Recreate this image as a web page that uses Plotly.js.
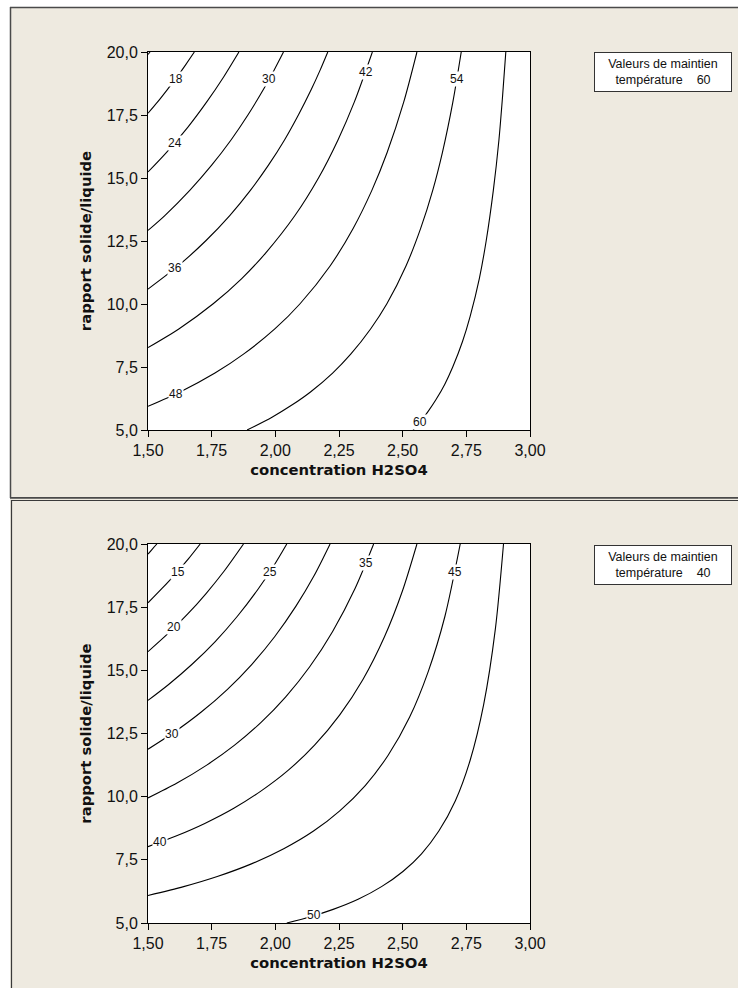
<!DOCTYPE html>
<html><head><meta charset="utf-8">
<script src="https://cdn.plot.ly/plotly-3.0.1.min.js"></script>
<style>html,body{margin:0;padding:0;background:#fff;} #chart{width:738px;height:988px;}</style>
</head><body><div id="chart"></div>
<script>
// ---------- data ----------
const xTicks = [1.5, 1.75, 2.0, 2.25, 2.5, 2.75, 3.0];
const yTicks = [5, 7.5, 10, 12.5, 15, 17.5, 20];
const xTitle = 'concentration H2SO4';
const yTitle = 'rapport solide/liquide';

// Top panel : température 60 — contour lines (x = concentration, y = rapport)
const t60_12_x = [1.5, 1.508];
const t60_12_y = [19.9, 20];
const t60_18_x = [1.5, 1.537, 1.576, 1.614, 1.649, 1.682];
const t60_18_y = [17.57, 18.01, 18.51, 19.01, 19.51, 20];
const t60_24_x = [1.5, 1.572, 1.656, 1.730, 1.797, 1.857];
const t60_24_y = [15.24, 16.01, 17.01, 18.01, 19.01, 20];
const t60_30_x = [1.5, 1.566, 1.664, 1.750, 1.826, 1.893, 1.953, 1.994, 2.032];
const t60_30_y = [12.92, 13.51, 14.51, 15.51, 16.51, 17.51, 18.51, 19.26, 20];
const t60_36_x = [1.5, 1.618, 1.727, 1.821, 1.902, 1.973, 2.036, 2.091, 2.141, 2.175, 2.206];
const t60_36_y = [10.59, 11.51, 12.51, 13.51, 14.51, 15.51, 16.51, 17.51, 18.51, 19.26, 20];
const t60_42_x = [1.5, 1.621, 1.756, 1.868, 1.961, 2.077, 2.170, 2.246, 2.310, 2.381];
const t60_42_y = [8.27, 9.01, 10.01, 11.01, 12.01, 13.51, 15.01, 16.51, 18.01, 20];
const t60_48_x = [1.5, 1.626, 1.763, 1.875, 1.998, 2.097, 2.215, 2.306, 2.379, 2.439, 2.504, 2.556];
const t60_48_y = [5.94, 6.51, 7.26, 8.01, 9.01, 10.01, 11.51, 13.01, 14.51, 16.01, 18.01, 20];
const t60_54_x = [1.889, 1.987, 2.068, 2.138, 2.225, 2.296, 2.374, 2.438, 2.513, 2.571, 2.618, 2.656, 2.697, 2.730];
const t60_54_y = [5, 5.51, 6.01, 6.51, 7.26, 8.01, 9.01, 10.01, 11.51, 13.01, 14.51, 16.01, 18.01, 20];
const t60_60_x = [2.541, 2.568, 2.598, 2.631, 2.665, 2.697, 2.735, 2.765, 2.801, 2.828, 2.856, 2.878, 2.892, 2.905];
const t60_60_y = [5, 5.31, 5.71, 6.21, 6.81, 7.51, 8.51, 9.51, 11.01, 12.51, 14.51, 16.51, 18.21, 20];
const t60_labels = ['18', '24', '30', '36', '42', '48', '54', '60'];
const t60_labelX = [1.608, 1.605, 1.976, 1.607, 2.355, 1.609, 2.713, 2.568];
const t60_labelY = [18.93, 16.40, 18.92, 11.42, 19.21, 6.43, 18.92, 5.33];

// Bottom panel : température 40
const t40_10_x = [1.5, 1.517, 1.535];
const t40_10_y = [19.60, 19.80, 20];
const t40_15_x = [1.5, 1.555, 1.610, 1.661, 1.705];
const t40_15_y = [17.67, 18.24, 18.84, 19.44, 20];
const t40_20_x = [1.5, 1.577, 1.657, 1.728, 1.800, 1.875];
const t40_20_y = [15.74, 16.44, 17.24, 18.04, 18.94, 20];
const t40_25_x = [1.5, 1.581, 1.673, 1.764, 1.851, 1.934, 1.994, 2.045];
const t40_25_y = [13.81, 14.44, 15.24, 16.14, 17.14, 18.24, 19.14, 20];
const t40_30_x = [1.5, 1.601, 1.708, 1.811, 1.908, 1.998, 2.081, 2.152, 2.215];
const t40_30_y = [11.88, 12.54, 13.34, 14.24, 15.24, 16.34, 17.54, 18.74, 20];
const t40_35_x = [1.5, 1.614, 1.729, 1.840, 1.944, 2.040, 2.135, 2.225, 2.313, 2.386];
const t40_35_y = [9.95, 10.54, 11.24, 12.04, 12.94, 13.94, 15.14, 16.54, 18.24, 20];
const t40_40_x = [1.5, 1.610, 1.723, 1.837, 1.946, 2.050, 2.154, 2.253, 2.344, 2.429, 2.499, 2.556];
const t40_40_y = [8.02, 8.44, 8.94, 9.54, 10.24, 11.04, 12.04, 13.24, 14.64, 16.34, 18.14, 20];
const t40_45_x = [1.5, 1.640, 1.772, 1.906, 2.033, 2.150, 2.253, 2.353, 2.443, 2.527, 2.600, 2.666, 2.726];
const t40_45_y = [6.09, 6.44, 6.84, 7.34, 7.94, 8.64, 9.44, 10.44, 11.64, 13.14, 14.94, 17.14, 20];
const t40_50_x = [2.045, 2.135, 2.227, 2.325, 2.417, 2.501, 2.574, 2.642, 2.707, 2.765, 2.818, 2.864, 2.896];
const t40_50_y = [5, 5.24, 5.54, 5.94, 6.44, 7.04, 7.74, 8.64, 9.84, 11.44, 13.64, 16.64, 20];
const t40_labels = ['15', '20', '25', '30', '35', '40', '45', '50'];
const t40_labelX = [1.616, 1.604, 1.979, 1.593, 2.356, 1.547, 2.705, 2.153];
const t40_labelY = [18.90, 16.70, 18.90, 12.48, 19.24, 8.19, 18.90, 5.30];

const holdTitle = 'Valeurs de maintien';
const holdNames = ['température', 'température'];
const holdValues = [60, 40];

// ---------- build ----------
const W = 738, H = 988;
const px = v => v / W;
const py = v => 1 - v / H;

const topLines = [[t60_12_x,t60_12_y],[t60_18_x,t60_18_y],[t60_24_x,t60_24_y],[t60_30_x,t60_30_y],
  [t60_36_x,t60_36_y],[t60_42_x,t60_42_y],[t60_48_x,t60_48_y],[t60_54_x,t60_54_y],[t60_60_x,t60_60_y]];
const botLines = [[t40_10_x,t40_10_y],[t40_15_x,t40_15_y],[t40_20_x,t40_20_y],[t40_25_x,t40_25_y],
  [t40_30_x,t40_30_y],[t40_35_x,t40_35_y],[t40_40_x,t40_40_y],[t40_45_x,t40_45_y],[t40_50_x,t40_50_y]];

const traces = [];
function addLines(list, xa, ya) {
  list.forEach(([xs, ys]) => traces.push({
    type: 'scatter', mode: 'lines', x: xs, y: ys, xaxis: xa, yaxis: ya,
    line: {color: '#000', width: 1.1, shape: 'spline', smoothing: 0.8},
    hoverinfo: 'skip', showlegend: false
  }));
}
addLines(topLines, 'x', 'y');
addLines(botLines, 'x2', 'y2');

const annotations = [];
function addLabels(texts, xs, ys, xr, yr) {
  texts.forEach((t, i) => annotations.push({
    xref: xr, yref: yr, x: xs[i], y: ys[i], text: t, showarrow: false,
    bgcolor: '#ffffff', borderpad: 0, xanchor: 'center', yanchor: 'middle',
    font: {family: 'Liberation Sans, Arial, sans-serif', size: 12, color: '#111'}
  }));
}
addLabels(t60_labels, t60_labelX, t60_labelY, 'x', 'y');
addLabels(t40_labels, t40_labelX, t40_labelY, 'x2', 'y2');

// hold-value boxes
const boxCenters = [71.5, 564.5];
holdValues.forEach((v, i) => annotations.push({
  xref: 'paper', yref: 'paper', x: px(663), y: py(boxCenters[i]),
  xanchor: 'center', yanchor: 'middle', showarrow: false,
  text: holdTitle + '<br>' + holdNames[i] + '\u00a0\u00a0\u00a0\u00a0' + v,
  align: 'center', bgcolor: '#ffffff', bordercolor: '#333', borderwidth: 1,
  borderpad: 0, width: 136, height: 38,
  font: {family: 'Liberation Sans, Arial, sans-serif', size: 12.5, color: '#111'}
}));

const tickFont = {family: 'Liberation Sans, Arial, sans-serif', size: 16, color: '#111'};
const titleFont = {family: 'DejaVu Sans, Verdana, sans-serif', size: 14.8, color: '#111', weight: 'bold'};
function xAxis(dom, anchor) {
  return {domain: dom, anchor: anchor, range: [1.5, 3.0], tickvals: xTicks, tickformat: '.2f',
    ticks: 'outside', ticklen: 6, tickcolor: '#000', tickwidth: 1,
    showline: true, linecolor: '#000', linewidth: 1, mirror: true,
    showgrid: false, zeroline: false, tickfont: tickFont,
    title: {text: xTitle, font: titleFont, standoff: 6}};
}
function yAxis(dom, anchor) {
  return {domain: dom, anchor: anchor, range: [5, 20], tickvals: yTicks, tickformat: '.1f',
    ticks: 'outside', ticklen: 6, tickcolor: '#000', tickwidth: 1,
    showline: true, linecolor: '#000', linewidth: 1, mirror: true,
    showgrid: false, zeroline: false, tickfont: tickFont,
    title: {text: yTitle, font: titleFont, standoff: 11}};
}
const xDom = [px(148), px(530)];
const layout = {
  width: W, height: H, margin: {l: 0, r: 0, t: 0, b: 0},
  paper_bgcolor: '#EEEAE0', plot_bgcolor: '#ffffff',
  separators: ', ', showlegend: false,
  xaxis: xAxis(xDom, 'y'), yaxis: yAxis([py(430), py(52)], 'x'),
  xaxis2: xAxis(xDom, 'y2'), yaxis2: yAxis([py(923), py(544)], 'x2'),
  annotations: annotations,
  shapes: [
    {type: 'rect', xref: 'paper', yref: 'paper', x0: 0, x1: px(10), y0: 0, y1: 1, fillcolor: '#fff', line: {width: 0}, layer: 'below'},
    {type: 'rect', xref: 'paper', yref: 'paper', x0: 0, x1: 1, y0: py(7), y1: 1, fillcolor: '#fff', line: {width: 0}, layer: 'below'},
    {type: 'line', xref: 'paper', yref: 'paper', x0: px(10.5), x1: px(10.5), y0: py(7), y1: py(498), line: {color: '#4a4a4a', width: 1.5}},
    {type: 'line', xref: 'paper', yref: 'paper', x0: px(10), x1: 1, y0: py(7.5), y1: py(7.5), line: {color: '#4a4a4a', width: 1.5}},
    {type: 'line', xref: 'paper', yref: 'paper', x0: px(10), x1: 1, y0: py(497.8), y1: py(497.8), line: {color: '#4a4a4a', width: 1.8}},
    {type: 'line', xref: 'paper', yref: 'paper', x0: px(11), x1: 1, y0: py(500.5), y1: py(500.5), line: {color: '#3a3a3a', width: 1.2}},
    {type: 'line', xref: 'paper', yref: 'paper', x0: px(11.5), x1: px(11.5), y0: py(500), y1: 0, line: {color: '#3a3a3a', width: 1.2}}
  ]
};
Plotly.newPlot('chart', traces, layout, {staticPlot: true, displayModeBar: false});
</script></body></html>
